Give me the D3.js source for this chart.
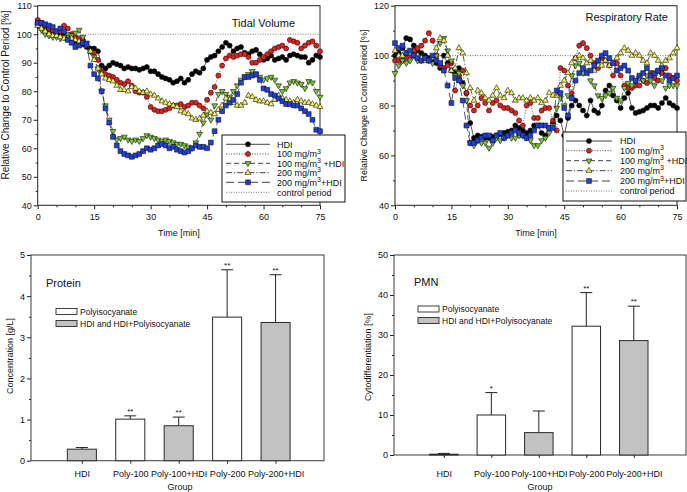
<!DOCTYPE html>
<html>
  <head>
    <meta charset="utf-8" />
    <script src="https://d3js.org/d3.v7.min.js"></script>
    <title>Tidal Volume, Respiratory Rate, Protein, PMN</title>
    <style>
      body { margin: 0; background: white; }
      text { font-family: 'Liberation Sans', Arial, sans-serif; fill: #111; }
    </style>
  </head>

  <body>
    <div id="chart"></div>
  </body>

  <script>
    // time [min], one reading per minute
    var minutes = [0,1,2,3,4,5,6,7,8,9,10,11,12,13,14,15,16,17,18,19,20,21,22,23,24,25,26,27,28,29,
      30,31,32,33,34,35,36,37,38,39,40,41,42,43,44,45,46,47,48,49,50,51,52,53,54,55,56,57,58,59,
      60,61,62,63,64,65,66,67,68,69,70,71,72,73,74,75];
    var timeTicks = [0, 15, 30, 45, 60, 75];
    var timeMinor = [5, 10, 20, 25, 35, 40, 50, 55, 65, 70];

    // Tidal volume, relative change to control period [%]
    var tvHDI = [104,103,102,101.5,101,100.5,100,99.5,99,98, 97.5,97,96.5,95.5,95,95,94,89,88,89,
      90,89.5,89,88,88.5,88,88,87.5,88,88.5, 87,87,86,85,84.5,84,83,83.5,84.5,83,
      84,86,87,86.5,88,91,92,92.5,94,95.5, 97,96,94,95,95.5,93.5,93,94,94.5,93,
      91,91.5,92.5,91,91.5,92,91,92.5,93,92.5, 92,92,90,91,92.5,92];
    var tv100 = [105,104,103,102,101.5,101,101,103,102,100, 99,98.5,98,96,94,93.5,91,87,86,85.5,
      85,84,83,82.5,83.5,82,80,79.5,79.5,78, 74.5,73.5,73,73,73.5,74,75,75,75.5,74.5,
      75,76,76,75,74,77,79.5,81.5,85.5,89, 91.5,92.5,92,92.5,93,93,92,90,90,91,
      92,93,94,95,95.5,96,95,98,97.5,97, 95,96,97,97.5,96,94];
    var tv100HDI = [103,101.5,100,99.5,99,99,98.5,99,100,99.5, 100.5,101.5,99,97,94,92,88,80,75,70,
      66,63,63.5,64,63,62.5,63,62.5,63.5,64.5, 64,63.5,63,62.5,63,62.5,62,61.5,61.5,61,
      60.5,60,62,65,69,72,70,75,79,80, 79,78,80,82,84,85,86,87,86,85,
      84,84.5,85,84,82,80,81,83,83.5,83, 82.5,81,83.5,83,80,78];
    var tv200 = [103,102,101,100,99.5,99.5,99,98.5,98.5,98.5, 98,97.5,97,96,94,91,88,86,84.5,84,
      83.5,82,80.5,80.5,80,81.5,81,80,79.5,80, 79,78.5,77.5,76.5,76,75.5,75,74.5,73,72.5,
      72,70.5,70,70.5,71.5,73,72.5,72,73.5,75, 77.5,77,76,75,75,76,78.5,78,77,76.5,
      76.5,76,75.5,77,78.5,77.5,77,76.5,76,77, 76.5,76,76,75.5,75,74.5];
    var tv200HDI = [104,104,103.5,103,102.5,101,102,101,98,97, 95.5,96,97,96.5,89,86,84.5,80,74,69,
      64,61,59,58,57.5,57,57.5,58,59,60, 59.5,60,61,61.5,61,60,60.5,59.5,59,58.5,
      59,60,61,60.5,60.5,60,62,66,70,73, 75,76,77,79,83,85,85,85.5,86,84,
      81,80.5,79,78.5,77.5,76.5,75.5,75.5,75,75, 74,73,72,70,66.5,66];

    // Respiratory rate, relative change to control period [%]
    var rrHDI = [100,101,103,107,106.5,104,102,101,100,99, 98,97,95,100,97,94,93,95,89,85,
      73,67,68,67.5,67,67,67.5,68,68.5,69, 69.5,70,72,71,70,69,70,72,72,69,
      68,71,73,76,74,68,75,80,82,80, 78,76,82,78,77,80,86,88,84,82,
      79,83,85,79,77,77.5,78,79,80,80, 79,81,83,81,80,79];
    var rr100 = [98,98,98,99,100,102,103,104,106,109, 106,100,96,95,96,97,86,92,94,85,
      80,78,80,83,81,78,81,82,80,79, 79,78,77,74,72,80,81,75,75,78,
      79,79,74,70,95,94,88,85,99,104, 105,103,100,97,95,99,98,96,92,97,
      92,88,87,87,88,88,90,89,93,91, 90,93,95,92,91,90];
    var rr100HDI = [93,96,98,97,98,100,98,98,99,98, 97,100,105,107,102,98,92,93,88,82,
      65,64,66,65,65,63,65,67,66,67, 68,67,67,68,68,67,66,64,64,66,
      67,69,72,79,83,80,84,92,96,97, 93,94,90,88,84,83,84,85,87,83,
      82,87,89,88,90,91,90,92,90,88, 94,90,87,88,88,88];
    var rr200 = [102,100,100,101,101,100,100,99,98,98, 99,103,107,106,100,94,95,103,101,93,
      87,82,86,85,83,82,84,87,84,83, 86,85,82,83,83,82,83,82,83,81,
      82,85,84,84,88,90,93,97,99,100, 99,97,98,94,96,96,98,96,97,99,
      101,103,102,100,101,100,98,97,101,100, 98,96,98,99,101,103];
    var rr200HDI = [105,103,104,101,102,100,99,98,99,98, 100,98,97,94,88,81,91,90,82,72,
      65,65,66,67,68,68,66,68,69,67, 68,69,70,69,68,67,68,70,72,72,
      72,71,71,86,85,79,76,83,90,93, 95,93,94,96,98,100,101,99,97,94,
      95,96,94,91,90,92,93,95,92,93, 94,95,92,90,91,92];

    // BAL groups
    var groups = ['HDI', 'Poly-100', 'Poly-100+HDI', 'Poly-200', 'Poly-200+HDI'];
    var groupKind = ['HDI', 'Poly', 'HDI', 'Poly', 'HDI'];
    var proteinMean = [0.28, 1.01, 0.85, 3.49, 3.36];
    var proteinSD = [0.04, 0.08, 0.21, 1.15, 1.16];
    var proteinSig = ['', '**', '**', '**', '**'];
    var pmnMean = [0.2, 10.0, 5.6, 32.2, 28.6];
    var pmnSD = [0.2, 5.6, 5.4, 8.4, 8.6];
    var pmnSig = ['', '*', '', '**', '**'];

    var svg = d3
      .select('#chart')
      .append('svg')
      .attr('width', 687)
      .attr('height', 492);

    // one entry per exposure group: marker, colour, line dash
    var seriesStyles = [
      { label: ['HDI', '', ''], symbol: d3.symbolCircle, size: 20, rotate: 0, fill: '#000', dash: null },
      { label: ['100 mg/m', '3', ''], symbol: d3.symbolCircle, size: 20, rotate: 0, fill: '#e3201c', dash: '1,1.6' },
      { label: ['100 mg/m', '3', ' +HDI'], symbol: d3.symbolTriangle, size: 15, rotate: 180, fill: '#7cc734', dash: '5,3' },
      { label: ['200 mg/m', '3', ''], symbol: d3.symbolTriangle, size: 15, rotate: 0, fill: '#f3f25a', dash: '6,2,1.2,2' },
      { label: ['200 mg/m', '3', '+HDI'], symbol: d3.symbolSquare, size: 23, rotate: 0, fill: '#1f3fe0', dash: '8,4' },
    ];

    createLinePanel({
      left: 37.7, right: 320, top: 5.7, bottom: 205.3,
      yDomain: [40, 110],
      yTicks: [40, 50, 60, 70, 80, 90, 100, 110],
      yMinor: [45, 55, 65, 75, 85, 95, 105],
      series: [tvHDI, tv100, tv100HDI, tv200, tv200HDI],
      title: 'Tidal Volume', titleX: 295, titleY: 26.5,
      yLabelX: 9, yLabelY: 95, yLabelSize: 10,
      legend: { x0: 222, x1: 345, y0: 135, y1: 202, l0: 226, l1: 270, tx: 277,
        rows: [144.3, 154, 163.3, 172.7, 182.3, 192.3] },
    });

    createLinePanel({
      left: 395, right: 677, top: 5.7, bottom: 205.3,
      yDomain: [40, 120],
      yTicks: [40, 60, 80, 100, 120],
      yMinor: [50, 70, 90, 110],
      series: [rrHDI, rr100, rr100HDI, rr200, rr200HDI],
      title: 'Respiratory Rate', titleX: 668, titleY: 20.5,
      yLabelX: 367, yLabelY: 105.5, yLabelSize: 9,
      legend: { x0: 563, x1: 686, y0: 132, y1: 201, l0: 566, l1: 612, tx: 620,
        rows: [141, 150.7, 160.7, 170.7, 181, 191] },
    });

    createBarPanel({
      left: 31, right: 324, top: 255, bottom: 460.7,
      xDomain: [-0.05, 6],
      yDomain: [0, 5],
      yTicks: [0, 1, 2, 3, 4, 5],
      yMinor: [0.5, 1.5, 2.5, 3.5, 4.5],
      tickPad: 7,
      mean: proteinMean, sd: proteinSD, sig: proteinSig,
      title: 'Protein', titleX: 46, titleY: 287,
      yLabel: 'Concentration [g/L]', yLabelX: 12.5, yLabelY: 356,
      groupX: 180,
      legendX: 56, legendY: [308.5, 320.5],
    });

    createBarPanel({
      left: 394, right: 686, top: 255, bottom: 455,
      xDomain: [-0.05, 6.1],
      yDomain: [0, 50],
      yTicks: [0, 10, 20, 30, 40, 50],
      yMinor: [5, 15, 25, 35, 45],
      tickPad: 12.5,
      mean: pmnMean, sd: pmnSD, sig: pmnSig,
      title: 'PMN', titleX: 414, titleY: 286,
      yLabel: 'Cytodifferentiation [%]', yLabelX: 371, yLabelY: 357,
      groupX: 540,
      legendX: 418, legendY: [306, 317.5],
    });

    function styleAxis(a) {
      a.attr('color', '#222').attr('font-size', 9);
      a.select('.domain').remove();
    }

    function drawMarker(g, s, cx, cy) {
      g.append('path')
        .attr('d', d3.symbol().type(s.symbol).size(s.size)())
        .attr('transform', 'translate(' + cx + ',' + cy + ') rotate(' + s.rotate + ')')
        .attr('fill', s.fill)
        .attr('stroke', '#111')
        .attr('stroke-width', 0.6);
    }

    function createLinePanel(p) {
      var x = d3.scaleLinear().domain([0, 75]).range([p.left, p.right]);
      var y = d3.scaleLinear().domain(p.yDomain).range([p.bottom, p.top]);
      var g = svg.append('g');

      // axes (ticks outside the frame)
      g.append('g')
        .attr('transform', 'translate(0,' + p.bottom + ')')
        .call(d3.axisBottom(x).tickValues(timeTicks).tickSize(4).tickPadding(4.5).tickSizeOuter(0))
        .call(styleAxis);
      g.append('g')
        .attr('transform', 'translate(0,' + p.bottom + ')')
        .call(d3.axisBottom(x).tickValues(timeMinor).tickSize(2).tickFormat('').tickSizeOuter(0))
        .call(styleAxis);
      g.append('g')
        .attr('transform', 'translate(' + p.left + ',0)')
        .call(d3.axisLeft(y).tickValues(p.yTicks).tickSize(4).tickPadding(2).tickSizeOuter(0))
        .call(styleAxis);
      g.append('g')
        .attr('transform', 'translate(' + p.left + ',0)')
        .call(d3.axisLeft(y).tickValues(p.yMinor).tickSize(2).tickFormat('').tickSizeOuter(0))
        .call(styleAxis);

      g.append('rect')
        .attr('x', p.left)
        .attr('y', p.top)
        .attr('width', p.right - p.left)
        .attr('height', p.bottom - p.top)
        .attr('fill', 'none')
        .attr('stroke', '#222')
        .attr('stroke-width', 1);

      // control period
      g.append('line')
        .attr('x1', x(0))
        .attr('x2', x(75))
        .attr('y1', y(100))
        .attr('y2', y(100))
        .attr('stroke', '#555')
        .attr('stroke-width', 0.8)
        .attr('stroke-dasharray', '1,1.5');

      var line = d3
        .line()
        .x((d, i) => x(minutes[i]))
        .y((d) => y(d));

      p.series.forEach(function (values, k) {
        var s = seriesStyles[k];
        g.append('path')
          .attr('d', line(values))
          .attr('fill', 'none')
          .attr('stroke', '#111')
          .attr('stroke-width', 0.7)
          .attr('stroke-dasharray', s.dash);
        values.forEach(function (v, i) {
          drawMarker(g, s, x(minutes[i]), y(v));
        });
      });

      g.append('text')
        .attr('x', p.titleX)
        .attr('y', p.titleY)
        .attr('text-anchor', 'end')
        .style('font-size', '11px')
        .text(p.title);

      // x label under the middle of the axis
      g.append('text')
        .attr('x', (p.left + p.right) / 2)
        .attr('y', 236)
        .attr('text-anchor', 'middle')
        .style('font-size', '9px')
        .text('Time [min]');

      g.append('text')
        .attr('transform', 'translate(' + p.yLabelX + ',' + p.yLabelY + ') rotate(-90)')
        .attr('text-anchor', 'middle')
        .style('font-size', p.yLabelSize + 'px')
        .text('Relative Change to Control Period [%]');

      // legend
      var L = p.legend;
      var lg = g.append('g');
      lg.append('rect')
        .attr('x', L.x0)
        .attr('y', L.y0)
        .attr('width', L.x1 - L.x0)
        .attr('height', L.y1 - L.y0)
        .attr('fill', 'white')
        .attr('stroke', '#111')
        .attr('stroke-width', 1);

      seriesStyles.forEach(function (s, i) {
        var ry = L.rows[i];
        lg.append('line')
          .attr('x1', L.l0)
          .attr('x2', L.l1)
          .attr('y1', ry)
          .attr('y2', ry)
          .attr('stroke', '#111')
          .attr('stroke-width', 0.8)
          .attr('stroke-dasharray', s.dash);
        drawMarker(lg, s, (L.l0 + L.l1) / 2, ry);
        var t = lg.append('text')
          .attr('x', L.tx)
          .attr('y', ry + 3.2)
          .style('font-size', '9px');
        t.append('tspan').text(s.label[0]);
        if (s.label[1]) {
          t.append('tspan').attr('dy', -3.5).style('font-size', '7px').text(s.label[1]);
        }
        if (s.label[2]) {
          t.append('tspan').attr('dy', 3.5).text(s.label[2]);
        }
      });
      var cy = L.rows[5];
      lg.append('line')
        .attr('x1', L.l0)
        .attr('x2', L.l1)
        .attr('y1', cy)
        .attr('y2', cy)
        .attr('stroke', '#555')
        .attr('stroke-width', 0.8)
        .attr('stroke-dasharray', '1,1.5');
      lg.append('text')
        .attr('x', L.tx)
        .attr('y', cy + 3.2)
        .style('font-size', '9px')
        .text('control period');
    }

    function createBarPanel(p) {
      var x = d3.scaleLinear().domain(p.xDomain).range([p.left, p.right]);
      var y = d3.scaleLinear().domain(p.yDomain).range([p.bottom, p.top]);
      var bw = x(0.6) - x(0);
      var g = svg.append('g');
      var positions = groups.map((d, i) => i + 1);

      g.append('g')
        .attr('transform', 'translate(0,' + p.bottom + ')')
        .call(
          d3.axisBottom(x)
            .tickValues(positions)
            .tickFormat((d) => groups[d - 1])
            .tickSize(3)
            .tickPadding(p.tickPad)
            .tickSizeOuter(0)
        )
        .call(styleAxis);
      g.append('g')
        .attr('transform', 'translate(' + p.left + ',0)')
        .call(
          d3.axisLeft(y)
            .tickValues(p.yTicks)
            .tickFormat(d3.format('d'))
            .tickSize(4)
            .tickPadding(2)
            .tickSizeOuter(0)
        )
        .call(styleAxis);
      g.append('g')
        .attr('transform', 'translate(' + p.left + ',0)')
        .call(d3.axisLeft(y).tickValues(p.yMinor).tickSize(2).tickFormat('').tickSizeOuter(0))
        .call(styleAxis);

      g.append('rect')
        .attr('x', p.left)
        .attr('y', p.top)
        .attr('width', p.right - p.left)
        .attr('height', p.bottom - p.top)
        .attr('fill', 'none')
        .attr('stroke', '#3a3a3a')
        .attr('stroke-width', 1);

      var bars = g
        .selectAll('.bar')
        .data(groups)
        .join('g')
        .attr('class', 'bar');

      // error bars (upper half only)
      bars
        .append('line')
        .attr('x1', (d, i) => x(i + 1))
        .attr('x2', (d, i) => x(i + 1))
        .attr('y1', (d, i) => y(p.mean[i]))
        .attr('y2', (d, i) => y(p.mean[i] + p.sd[i]))
        .attr('stroke', '#222')
        .attr('stroke-width', 1);
      bars
        .append('line')
        .attr('x1', (d, i) => x(i + 1) - 6)
        .attr('x2', (d, i) => x(i + 1) + 6)
        .attr('y1', (d, i) => y(p.mean[i] + p.sd[i]))
        .attr('y2', (d, i) => y(p.mean[i] + p.sd[i]))
        .attr('stroke', '#222')
        .attr('stroke-width', 1);

      bars
        .append('rect')
        .attr('x', (d, i) => x(i + 1) - bw / 2)
        .attr('y', (d, i) => y(p.mean[i]))
        .attr('width', bw)
        .attr('height', (d, i) => y(0) - y(p.mean[i]))
        .attr('fill', (d, i) => (groupKind[i] === 'Poly' ? 'white' : '#c2c2c2'))
        .attr('stroke', '#2a2a2a')
        .attr('stroke-width', 1);

      bars
        .filter((d, i) => p.sig[i] !== '')
        .append('text')
        .attr('x', (d) => x(groups.indexOf(d) + 1))
        .attr('y', (d) => y(p.mean[groups.indexOf(d)] + p.sd[groups.indexOf(d)]) - 2)
        .attr('text-anchor', 'middle')
        .style('font-size', '8px')
        .text((d) => p.sig[groups.indexOf(d)]);

      g.append('text')
        .attr('x', p.titleX)
        .attr('y', p.titleY)
        .style('font-size', '11px')
        .text(p.title);

      g.append('text')
        .attr('x', p.groupX)
        .attr('y', 490)
        .attr('text-anchor', 'middle')
        .style('font-size', '9px')
        .text('Group');

      g.append('text')
        .attr('transform', 'translate(' + p.yLabelX + ',' + p.yLabelY + ') rotate(-90)')
        .attr('text-anchor', 'middle')
        .style('font-size', '9px')
        .text(p.yLabel);

      // legend
      var items = [
        { fill: 'white', text: 'Polyisocyanate' },
        { fill: '#c2c2c2', text: 'HDI and HDI+Polyisocyanate' },
      ];
      items.forEach(function (it, i) {
        g.append('rect')
          .attr('x', p.legendX)
          .attr('y', p.legendY[i])
          .attr('width', 21)
          .attr('height', 6)
          .attr('fill', it.fill)
          .attr('stroke', '#2a2a2a')
          .attr('stroke-width', 0.9);
        g.append('text')
          .attr('x', p.legendX + 24)
          .attr('y', p.legendY[i] + 6)
          .style('font-size', '8.5px')
          .text(it.text);
      });
    }
  </script>
</html>
